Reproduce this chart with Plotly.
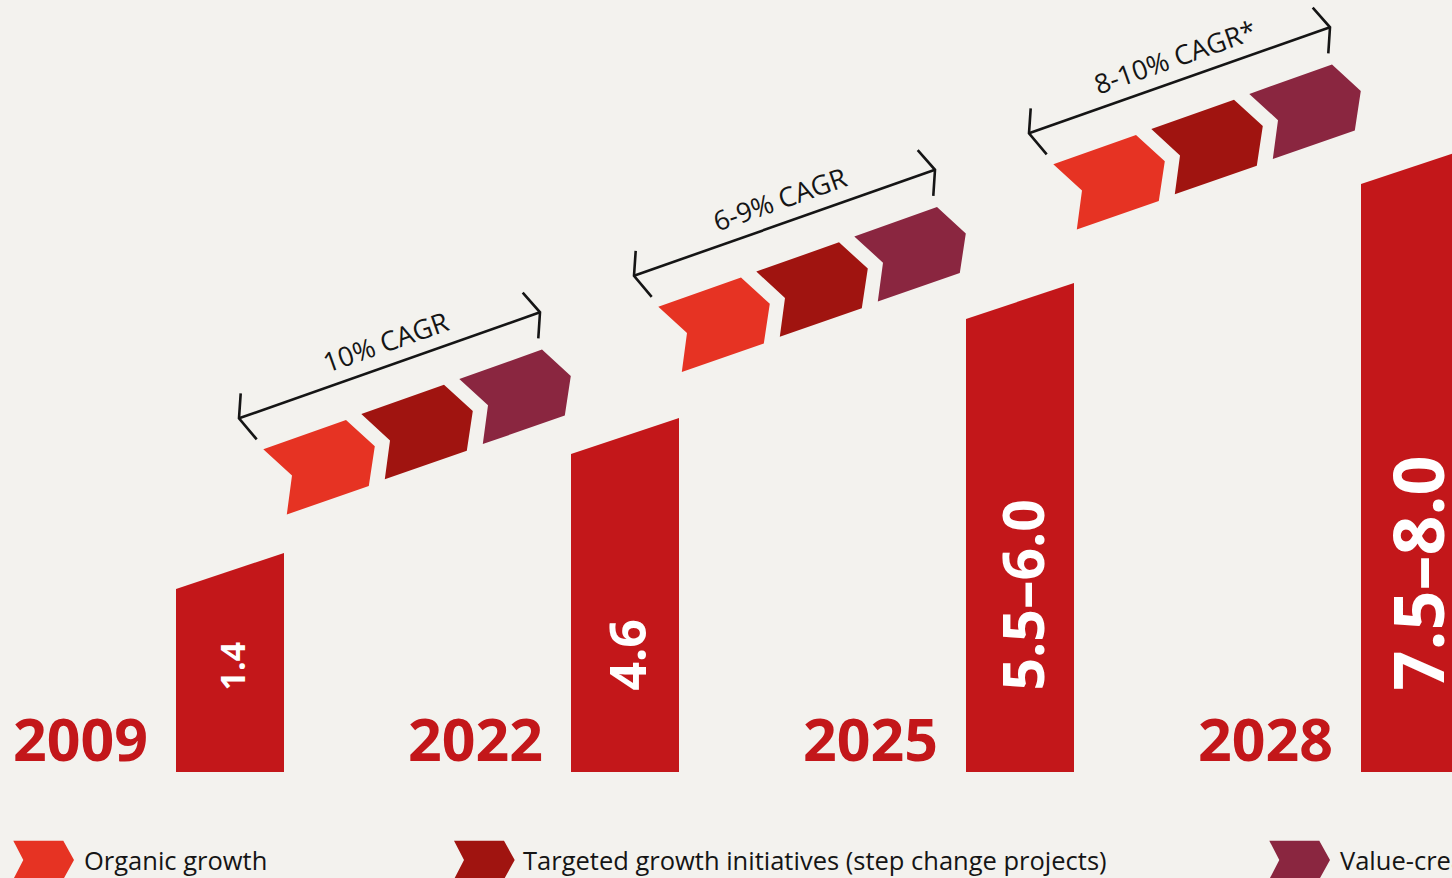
import plotly.graph_objects as go

# ---------------- data ----------------
years = ["2009", "2022", "2025", "2028"]
value_labels = ["1.4", "4.6", "5.5–6.0", "7.5–8.0"]
bar_steps = [1, 2, 3, 4]          # schematic bar level (infographic, not to scale)
cagr_labels = ["10% CAGR", "6-9% CAGR", "8-10% CAGR*"]
legend_labels = ["Organic growth",
                 "Targeted growth initiatives (step change projects)",
                 "Value-creating acquisitions"]

# ---------------- style ----------------
BG = "#F3F2EE"
BAR = "#C3171A"
CHEV = ["#E63323", "#A01410", "#8A2640"]
INK = "#151515"
FONT = "Open Sans"
value_font_sizes = [34, 50, 57, 70]

W, H = 1452, 878
SLOT = 395.0   # px per category slot
UNIT = 135.0   # px per bar step
X0 = 230.0     # px centre of first bar
Y0 = 772.0     # px of bar baseline


def dx(p):
    return p / SLOT


def dy(p):
    return p / UNIT


def xd(px):
    return (px - X0) / SLOT


def yd(py):
    return (Y0 - py) / UNIT


fig = go.Figure()

# ---- bars with slanted tops ----
hw = dx(54)
for i, s in enumerate(bar_steps):
    yl = s + dy(48)
    yr = yl + dy(36)
    fig.add_trace(go.Scatter(
        x=[i - hw, i - hw, i + hw, i + hw, i - hw],
        y=[0, yl, yr, 0, 0],
        mode="lines", fill="toself", fillcolor=BAR,
        line=dict(width=0, color=BAR), hoverinfo="skip", showlegend=False))
    fig.add_annotation(
        x=i + dx(1), y=yd(693), text=value_labels[i], textangle=-90, showarrow=False,
        xanchor="center", yanchor="bottom",
        font=dict(family=FONT, size=value_font_sizes[i], color="white", weight=700))
    fig.add_annotation(
        x=i - dx(150), y=yd(738), text=years[i], showarrow=False,
        xanchor="center", yanchor="middle",
        font=dict(family=FONT, size=59, color=BAR, weight=700))

# ---- chevron groups with CAGR brackets ----
chev_px = [(0, 0), (82.7, -29.3), (111.5, -3), (105.5, 36.7), (23.5, 65.2), (28.7, 26.3)]
chev_step = (98.0, -35.2)
for g, lab in enumerate(cagr_labels):
    ax = g + dx(263.3 - X0)
    ay = yd(449.3) + g * dy(142.5)

    def P(px, py):
        return ax + dx(px), ay - dy(py)

    for k in range(3):
        pts = [P(px + k * chev_step[0], py + k * chev_step[1]) for px, py in chev_px]
        pts.append(pts[0])
        fig.add_trace(go.Scatter(
            x=[p[0] for p in pts], y=[p[1] for p in pts],
            mode="lines", fill="toself", fillcolor=CHEV[k],
            line=dict(width=0, color=CHEV[k]), hoverinfo="skip", showlegend=False))

    segs = [[(-22.6, -56), (-24.3, -31), (-6.6, -10)],
            [(-24.3, -31), (276.7, -137)],
            [(259.4, -156.6), (276.7, -137), (275, -111)]]
    xs, ys = [], []
    for seg in segs:
        for px, py in seg:
            X, Y = P(px, py)
            xs.append(X)
            ys.append(Y)
        xs.append(None)
        ys.append(None)
    fig.add_trace(go.Scatter(x=xs, y=ys, mode="lines",
                             line=dict(width=2.6, color=INK),
                             hoverinfo="skip", showlegend=False))
    tx, ty = P(122, -108)
    fig.add_annotation(x=tx, y=ty, text=lab, textangle=-19.4, showarrow=False,
                       xanchor="center", yanchor="middle",
                       font=dict(family=FONT, size=27, color=INK))

# ---- legend ----
leg_icon_x = [13.3, 454.0, 1269.3]
leg_text_x = [81.5, 521.0, 1337.5]
icon_px = [(0, 0), (50, 0), (60.7, 19.3), (50, 38.6), (0, 38.6), (10, 19.3)]
for j, lab in enumerate(legend_labels):
    pts = [(xd(leg_icon_x[j] + px), yd(840.7 + py)) for px, py in icon_px]
    pts.append(pts[0])
    fig.add_trace(go.Scatter(
        x=[p[0] for p in pts], y=[p[1] for p in pts],
        mode="lines", fill="toself", fillcolor=CHEV[j],
        line=dict(width=0, color=CHEV[j]), hoverinfo="skip", showlegend=False))
    fig.add_annotation(x=xd(leg_text_x[j]), y=yd(860), text=lab, showarrow=False,
                       xanchor="left", yanchor="middle",
                       font=dict(family=FONT, size=25.5, color=INK))

fig.update_layout(
    width=W, height=H, autosize=False,
    margin=dict(l=0, r=0, t=0, b=0, pad=0),
    paper_bgcolor=BG, plot_bgcolor=BG,
    showlegend=False, hovermode=False,
    xaxis=dict(range=[xd(0), xd(W)], visible=False, fixedrange=True),
    yaxis=dict(range=[yd(H), yd(0)], visible=False, fixedrange=True),
)

fig.write_html("out.html")
